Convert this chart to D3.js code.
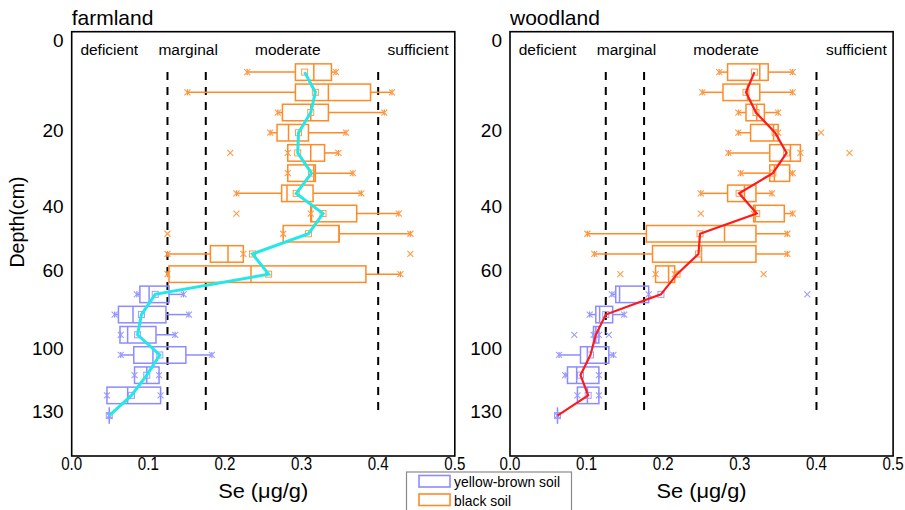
<!DOCTYPE html>
<html>
<head>
<meta charset="utf-8">
<script src="https://cdn.jsdelivr.net/npm/d3@7"></script>
<style>
  body { margin: 0; background: #fff; }
  text { font-family: "Liberation Sans", Arial, sans-serif; fill: #000; }
</style>
</head>
<body>
<div id="chart"></div>
<script>
// Depth layers (row index, top to bottom) and soil type of each layer
const rows = d3.range(1, 19);
const soil = ["black","black","black","black","black","black","black","black","black","black","black",
  "yellow","yellow","yellow","yellow","yellow","yellow","yellow"];

// farmland box statistics (Se, ug/g)
const farmLow    = [0.229,0.151,0.269,0.259,0.282,0.282,0.215,0.312,0.276,0.125,0.125,0.085,0.056,0.064,0.064,0.082,0.046,0.049];
const farmQ1     = [0.292,0.292,0.275,0.268,0.282,0.282,0.274,0.312,0.276,0.181,0.127,0.089,0.061,0.063,0.081,0.082,0.046,0.049];
const farmMedian = [0.316,0.335,0.312,0.283,0.312,0.316,0.281,0.313,0.349,0.204,0.234,0.101,0.080,0.073,0.106,0.098,0.073,0.049];
const farmQ3     = [0.339,0.390,0.335,0.309,0.330,0.318,0.315,0.372,0.349,0.224,0.384,0.127,0.123,0.110,0.149,0.114,0.116,0.049];
const farmHigh   = [0.345,0.418,0.408,0.358,0.348,0.367,0.378,0.427,0.442,0.224,0.429,0.146,0.153,0.135,0.183,0.114,0.116,0.049];
const farmMean   = [0.304,0.318,0.312,0.296,0.295,0.313,0.293,0.328,0.309,0.236,0.257,0.109,0.091,0.086,0.115,0.098,0.078,0.049];
const farmOutliers = [[],[],[],[],[0.207],[],[],[0.215],[0.125],[0.442],[],[],[],[],[],[],[],[]];

// woodland box statistics (Se, ug/g)
const woodLow    = [0.273,0.251,0.298,0.298,0.285,0.301,0.249,0.318,0.101,0.110,0.190,0.133,0.104,0.109,0.064,0.072,0.088,0.062];
const woodQ1     = [0.284,0.278,0.308,0.314,0.339,0.339,0.284,0.318,0.178,0.186,0.190,0.138,0.112,0.109,0.092,0.075,0.088,0.062];
const woodMedian = [0.326,0.310,0.322,0.344,0.366,0.345,0.306,0.320,0.280,0.250,0.207,0.143,0.117,0.112,0.101,0.087,0.101,0.062];
const woodQ3     = [0.337,0.326,0.332,0.350,0.379,0.365,0.321,0.358,0.321,0.321,0.215,0.181,0.134,0.116,0.129,0.116,0.116,0.062];
const woodHigh   = [0.369,0.369,0.350,0.350,0.379,0.369,0.342,0.369,0.362,0.362,0.215,0.181,0.149,0.116,0.135,0.116,0.116,0.062];
const woodMean   = [0.319,0.308,0.321,0.346,0.361,0.343,0.299,0.322,0.248,0.246,0.218,0.197,0.125,0.112,0.105,0.092,0.102,0.062];
const woodOutliers = [[],[],[],[0.406],[0.443],[],[],[0.249],[],[],[0.144,0.331],[0.388],[],[0.084,0.129],[],[],[],[]];

// axes and reference classes
const xTicks = [0, 0.1, 0.2, 0.3, 0.4, 0.5];
const depthLabels = ["0", "20", "40", "60", "100", "130"];
const depthLabelRow = [-0.6, 3.85, 7.65, 10.8, 14.65, 17.8];
const thresholds = [0.125, 0.175, 0.4];
const classNames = ["deficient", "marginal", "moderate", "sufficient"];
const classCenters = [0.049, 0.152, 0.282, 0.452];

const colors = {
  black: { stroke: "#ff8a26", mark: "#ff9c4a" },
  yellow: { stroke: "#8c8cff", mark: "#9d9dff" }
};

const width = 905, height = 510;
const svg = d3.select("#chart").append("svg")
  .attr("width", width).attr("height", height);

const plotTop = 31.7, plotBottom = 456;
const y = d3.scaleLinear().domain([-1, 20]).range([plotTop, plotBottom]);
const bh = 16.5;

function xMark(g, cx, cy, col) {
  const s = 3;
  g.append("path")
    .attr("d", `M${cx - s},${cy - s}L${cx + s},${cy + s}M${cx - s},${cy + s}L${cx + s},${cy - s}`)
    .attr("stroke", col).attr("stroke-width", 1.1).attr("fill", "none");
}

function panel(spec) {
  const x = d3.scaleLinear().domain([0, 0.5]).range([spec.left, spec.left + 383.1]);
  const g = svg.append("g");

  // title
  g.append("text").attr("x", spec.left).attr("y", 25)
    .style("font-size", "21px").text(spec.title);

  // class labels
  g.selectAll("text.cls").data(classNames).join("text")
    .attr("class", "cls")
    .attr("x", (d, i) => x(classCenters[i])).attr("y", 55)
    .attr("text-anchor", "middle").style("font-size", "15.5px")
    .text(d => d);

  // threshold lines
  g.selectAll("line.thr").data(thresholds).join("line")
    .attr("class", "thr")
    .attr("x1", d => x(d)).attr("x2", d => x(d))
    .attr("y1", y(1)).attr("y2", y(18))
    .attr("stroke", "#000").attr("stroke-width", 2)
    .attr("stroke-dasharray", "8,7");

  // boxes
  rows.forEach((r, i) => {
    const c = colors[soil[i]];
    const cy = y(r);
    const bg = g.append("g");
    bg.append("line").attr("x1", x(spec.low[i])).attr("x2", x(spec.q1[i]))
      .attr("y1", cy).attr("y2", cy).attr("stroke", c.stroke).attr("stroke-width", 1.5);
    bg.append("line").attr("x1", x(spec.q3[i])).attr("x2", x(spec.high[i]))
      .attr("y1", cy).attr("y2", cy).attr("stroke", c.stroke).attr("stroke-width", 1.5);
    bg.append("rect")
      .attr("x", x(spec.q1[i])).attr("y", cy - bh / 2)
      .attr("width", Math.max(0, x(spec.q3[i]) - x(spec.q1[i]))).attr("height", bh)
      .attr("fill", "none").attr("stroke", c.stroke).attr("stroke-width", 1.5);
    bg.append("line").attr("x1", x(spec.median[i])).attr("x2", x(spec.median[i]))
      .attr("y1", cy - bh / 2).attr("y2", cy + bh / 2)
      .attr("stroke", c.stroke).attr("stroke-width", 1.5);
    [spec.low[i], spec.high[i]].forEach(v => {
      bg.append("line").attr("x1", x(v)).attr("x2", x(v))
        .attr("y1", cy - 3).attr("y2", cy + 3).attr("stroke", c.stroke).attr("stroke-width", 1.2);
      xMark(bg, x(v), cy, c.mark);
    });
    spec.outliers[i].forEach(v => xMark(bg, x(v), cy, c.mark));
    bg.append("rect")
      .attr("x", x(spec.mean[i]) - 3).attr("y", cy - 3)
      .attr("width", 6).attr("height", 6)
      .attr("fill", "none").attr("stroke", c.mark).attr("stroke-width", 1);
  });

  // mean profile
  const line = d3.line().x((r, i) => x(spec.mean[i])).y(r => y(r));
  g.append("path").datum(rows)
    .attr("d", line).attr("fill", "none")
    .attr("stroke", spec.lineColor).attr("stroke-width", spec.lineWidth)
    .attr("stroke-linejoin", "miter");

  // frame
  g.append("rect").attr("x", spec.left).attr("y", plotTop)
    .attr("width", 383.1).attr("height", plotBottom - plotTop)
    .attr("fill", "none").attr("stroke", "#000").attr("stroke-width", 1.6);

  // x tick labels (narrow face in the original)
  g.selectAll("text.xt").data(xTicks).join("text")
    .attr("class", "xt")
    .attr("x", d => x(d)).attr("y", 470)
    .attr("text-anchor", "middle").style("font-size", "19px")
    .attr("textLength", 21).attr("lengthAdjust", "spacingAndGlyphs")
    .text(d3.format(".1f"));

  g.append("text").attr("x", spec.left + 191.5).attr("y", 498)
    .attr("text-anchor", "middle").style("font-size", "21px")
    .attr("textLength", 90).attr("lengthAdjust", "spacingAndGlyphs")
    .text("Se (μg/g)");

  // depth labels
  g.selectAll("text.yt").data(depthLabels).join("text")
    .attr("class", "yt")
    .attr("x", spec.left - 8).attr("y", (d, i) => y(depthLabelRow[i]))
    .attr("dy", "0.36em")
    .attr("text-anchor", "end").style("font-size", "19px")
    .text(d => d);
}

panel({
  title: "farmland", left: 71.7,
  low: farmLow, q1: farmQ1, median: farmMedian, q3: farmQ3, high: farmHigh,
  mean: farmMean, outliers: farmOutliers, lineColor: "#22e8e8", lineWidth: 3
});
panel({
  title: "woodland", left: 510,
  low: woodLow, q1: woodQ1, median: woodMedian, q3: woodQ3, high: woodHigh,
  mean: woodMean, outliers: woodOutliers, lineColor: "#ff1a1a", lineWidth: 2.2
});

svg.append("text")
  .attr("transform", "translate(24,222) rotate(-90)")
  .attr("text-anchor", "middle").style("font-size", "19.5px")
  .text("Depth(cm)");

// legend
const legend = svg.append("g");
legend.append("rect").attr("x", 406.5).attr("y", 472).attr("width", 165).attr("height", 42)
  .attr("fill", "#fff").attr("stroke", "#8a8a8a").attr("stroke-width", 1.2);
const legendItems = [["yellow", "yellow-brown soil", 106], ["black", "black soil", 57]];
legendItems.forEach(([k, label, len], i) => {
  legend.append("rect").attr("x", 419).attr("y", 475.5 + i * 18.5)
    .attr("width", 31).attr("height", 11.5)
    .attr("fill", "none").attr("stroke", colors[k].stroke).attr("stroke-width", 1.6);
  legend.append("text").attr("x", 454).attr("y", 487 + i * 18.5)
    .style("font-size", "15px")
    .attr("textLength", len).attr("lengthAdjust", "spacingAndGlyphs")
    .text(label);
});
</script>
</body>
</html>
